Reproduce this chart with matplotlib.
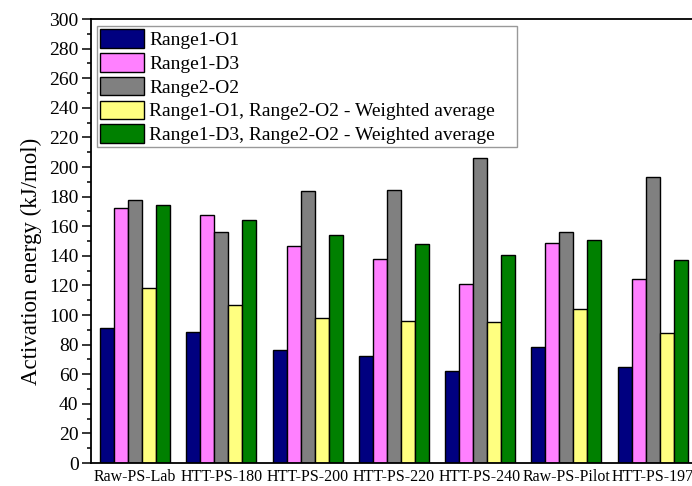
import numpy as np
import matplotlib
matplotlib.use("Agg")
import matplotlib.pyplot as plt
from matplotlib.ticker import MultipleLocator

# Activation energy per sample, kJ/mol
samples = ["Raw-PS-Lab", "HTT-PS-180", "HTT-PS-200", "HTT-PS-220",
           "HTT-PS-240", "Raw-PS-Pilot", "HTT-PS-197"]
range1_o1 = [91.5, 88.5, 76.5, 72, 62.5, 78.5, 65]
range1_d3 = [172.5, 167.5, 146.5, 138, 121, 148.5, 124.5]
range2_o2 = [177.5, 156, 184, 184.5, 206, 156, 193]
wavg_o1_o2 = [118.5, 106.5, 98, 96, 95, 104, 88]
wavg_d3_o2 = [174, 164, 154, 148, 140.5, 150.5, 137]

series = [
    (range1_o1, "#000080", "Range1-O1"),
    (range1_d3, "#FF80FF", "Range1-D3"),
    (range2_o2, "#808080", "Range2-O2"),
    (wavg_o1_o2, "#FFFF80", "Range1-O1, Range2-O2 - Weighted average"),
    (wavg_d3_o2, "#008000", "Range1-D3, Range2-O2 - Weighted average"),
]

plt.rcParams["font.family"] = ["Liberation Serif", "DejaVu Serif"]

fig = plt.figure(figsize=(6.92, 4.86), dpi=100)
# axes runs past the right edge of the figure
ax = fig.add_axes([91 / 692, 23 / 486, 610 / 692, 444 / 486])

x = np.arange(len(samples))
w = 0.162
for k, (vals, col, lab) in enumerate(series):
    ax.bar(x + (k - 2) * w, vals, w, color=col, edgecolor="black",
           linewidth=1.0, label=lab)

ax.set_xlim(-0.51, 6.56)
ax.set_ylim(0, 300)
ax.set_xticks(x)
ax.set_xticklabels(samples, fontsize=11.5)
ax.tick_params(axis="x", length=0, pad=4)
ax.yaxis.set_major_locator(MultipleLocator(20))
ax.yaxis.set_minor_locator(MultipleLocator(10))
ax.tick_params(axis="y", which="major", direction="out", length=6.5, width=1.1,
               labelsize=14, pad=2.5)
ax.tick_params(axis="y", which="minor", direction="out", length=3, width=1.1)
for s in ax.spines.values():
    s.set_linewidth(1.3)
ax.set_ylabel("Activation energy (kJ/mol)", fontsize=16.5)
ax.yaxis.set_label_coords(-0.080, 0.453)

leg = ax.legend(loc="upper left", bbox_to_anchor=(0.0098, 0.984, 0.688, 0.0),
                mode="expand", borderaxespad=0.0, fontsize=14, frameon=True,
                fancybox=False, edgecolor="#808080", handlelength=2.25,
                handleheight=1.1, handletextpad=0.3, labelspacing=0.2,
                borderpad=0.15)
leg.get_frame().set_linewidth(1.0)

fig.savefig("out.png", dpi=100)
